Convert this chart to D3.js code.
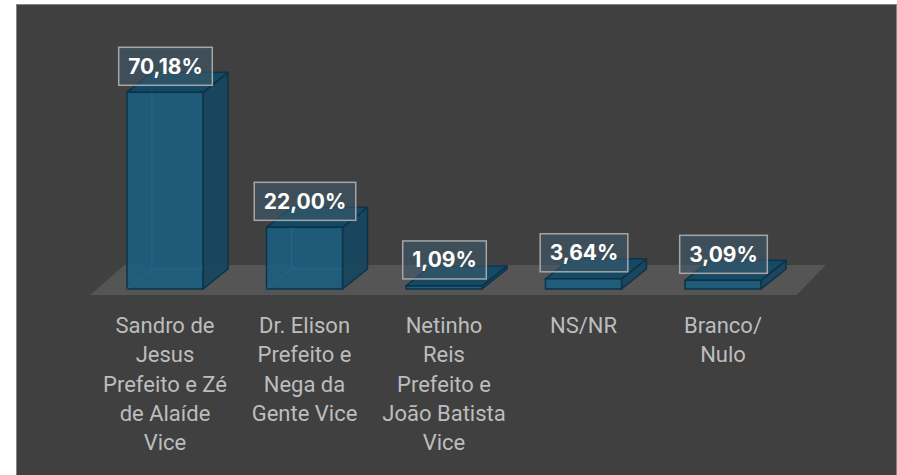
<!DOCTYPE html>
<html>
<head>
<meta charset="utf-8">
<script src="https://cdn.jsdelivr.net/npm/d3@7"></script>
<style>
  body { margin: 0; background: #fff; }
  svg { display: block; }
</style>
</head>
<body>
<svg id="chart" width="897" height="475"></svg>
<script>
const categories = ['Sandro de Jesus', 'Dr. Elison', 'Netinho Reis', 'NS/NR', 'Branco/Nulo']
const values = [70.18, 22.00, 1.09, 3.64, 3.09]
const valueLabels = ['70,18%', '22,00%', '1,09%', '3,64%', '3,09%']
const tickLines = [
  ['Sandro de', 'Jesus', 'Prefeito e Zé', 'de Alaíde', 'Vice'],
  ['Dr. Elison', 'Prefeito e', 'Nega da', 'Gente Vice'],
  ['Netinho', 'Reis', 'Prefeito e', 'João Batista', 'Vice'],
  ['NS/NR'],
  ['Branco/', 'Nulo']
]

const svg = d3.select('#chart')
const width = 897
const height = 475

// dark panel
svg.append('rect')
  .attr('x', 16.5).attr('y', 4.5)
  .attr('width', width - 17).attr('height', height + 10)
  .attr('fill', '#404040')
  .attr('stroke', '#858585')
  .attr('stroke-width', 1)

const x = d3.scaleBand()
  .domain(categories)
  .range([95.25, 792.75])
  .paddingInner(0.455)
  .paddingOuter(0.2275)

const y = d3.scaleLinear()
  .domain([0, d3.max(values)])
  .range([289, 92.3])

const depth = { dx: 25, dy: -20 }
const floorY = y(0) + 6

// floor
const [r0, r1] = x.range()
svg.append('polygon')
  .attr('points', [
    [r0 - 5, floorY], [r1 + 4, floorY],
    [r1 + 33, floorY - 30], [r0 + 29, floorY - 30]
  ].map(p => p.join(',')).join(' '))
  .attr('fill', '#555555')

const bars = svg.append('g')
  .selectAll('g')
  .data(categories.map((c, i) => ({ cat: c, value: values[i], label: valueLabels[i], lines: tickLines[i] })))
  .enter()
  .append('g')

const pts = arr => arr.map(p => p.join(',')).join(' ')
const edge = '#0c3349'

bars.each(function (d) {
  const g = d3.select(this)
  const x0 = x(d.cat)
  const w = x.bandwidth()
  const yT = y(d.value)
  const yB = y(0)
  const { dx, dy } = depth

  // side
  g.append('polygon')
    .attr('points', pts([[x0 + w, yB], [x0 + w + dx, yB + dy], [x0 + w + dx, yT + dy], [x0 + w, yT]]))
    .attr('fill', '#17475f')
    .attr('fill-opacity', 0.92)
    .attr('stroke', edge)
    .attr('stroke-width', 1.5)
    .attr('stroke-linejoin', 'round')

  // top
  g.append('polygon')
    .attr('points', pts([[x0, yT], [x0 + dx, yT + dy], [x0 + w + dx, yT + dy], [x0 + w, yT]]))
    .attr('fill', '#124a66')
    .attr('fill-opacity', 0.95)
    .attr('stroke', edge)
    .attr('stroke-width', 1.5)
    .attr('stroke-linejoin', 'round')

  // front
  g.append('rect')
    .attr('x', x0).attr('y', yT)
    .attr('width', w).attr('height', yB - yT)
    .attr('fill', '#1b5e80')
    .attr('fill-opacity', 0.9)
    .attr('stroke', edge)
    .attr('stroke-width', 1.5)

  // inner back lines seen through front
  if (yB - yT > 20) {
    g.append('polyline')
      .attr('points', pts([[x0 + dx, yT + dy + 20], [x0 + dx, yB + dy], [x0 + w, yB + dy]]))
      .attr('fill', 'none')
      .attr('stroke', '#2b6d8e')
      .attr('stroke-opacity', 0.6)
    g.append('line')
      .attr('x1', x0).attr('y1', yB).attr('x2', x0 + dx).attr('y2', yB + dy)
      .attr('stroke', '#2b6d8e')
      .attr('stroke-opacity', 0.6)
  }
})

// value label boxes
bars.each(function (d) {
  const g = d3.select(this)
  const cx = x(d.cat) + x.bandwidth() / 2 + 0.5
  const boxBottom = y(d.value) - 7
  const t = g.append('text')
    .attr('x', cx)
    .attr('y', boxBottom - 11.5)
    .attr('text-anchor', 'middle')
    .attr('font-family', 'Inter, Roboto, sans-serif')
    .attr('font-weight', 'bold')
    .attr('font-size', 21)
    .attr('fill', '#ffffff')
    .text(d.label)
  const tw = t.node().getComputedTextLength()
  const bw = tw + 19
  g.insert('rect', 'text')
    .attr('x', cx - bw / 2)
    .attr('y', boxBottom - 38)
    .attr('width', bw)
    .attr('height', 38)
    .attr('fill', '#3e5a6a')
    .attr('fill-opacity', 0.6)
    .attr('stroke', '#a6a6a6')
    .attr('stroke-width', 1.5)
})

// category labels
const lineH = 29.3
bars.each(function (d) {
  const g = d3.select(this)
  const cx = x(d.cat) + x.bandwidth() / 2
  g.append('text')
    .attr('text-anchor', 'middle')
    .attr('font-family', 'Roboto, sans-serif')
    .attr('font-size', 22)
    .attr('fill', '#bdbdbd')
    .selectAll('tspan')
    .data(d.lines)
    .enter()
    .append('tspan')
    .attr('x', cx)
    .attr('y', (l, i) => 333 + i * lineH)
    .text(l => l)
})
</script>
</body>
</html>
